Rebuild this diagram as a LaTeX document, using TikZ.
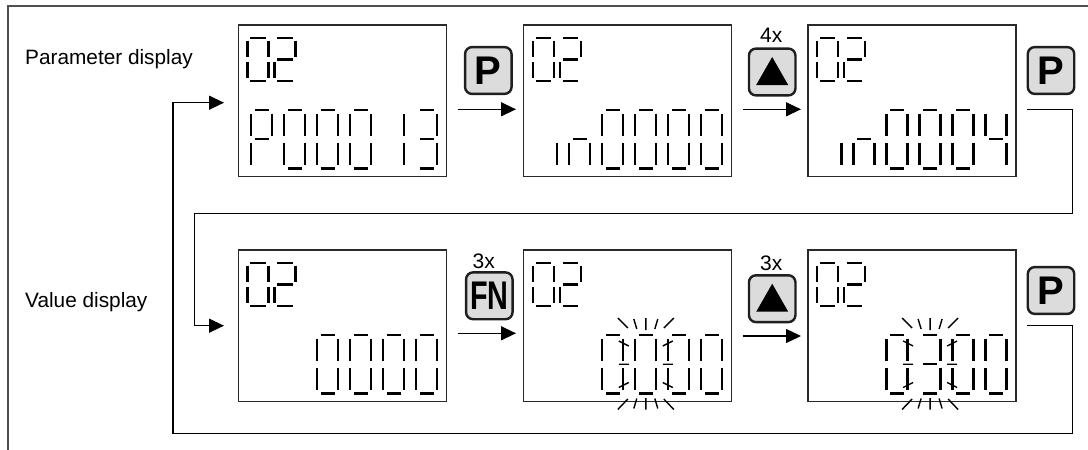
\documentclass[tikz,border=0pt]{standalone}
\usepackage{fontspec}
\setmainfont{Liberation Sans}
\usetikzlibrary{arrows.meta}
\definecolor{btngray}{HTML}{DCDCDC}
\definecolor{framegray}{HTML}{505050}
\definecolor{boxline}{HTML}{2A2A2A}

\newcommand\dsega[5]{\draw[seg] ({#1+#5},{#2}) -- ({#1+#3-#5},{#2});}
\newcommand\dsegb[5]{\draw[seg] ({#1+#3},{#2+#5}) -- ({#1+#3},{#2+#4/2-#5});}
\newcommand\dsegc[5]{\draw[seg] ({#1+#3},{#2+#4/2+#5}) -- ({#1+#3},{#2+#4-#5});}
\newcommand\dsegd[5]{\draw[seg] ({#1+#5},{#2+#4}) -- ({#1+#3-#5},{#2+#4});}
\newcommand\dsege[5]{\draw[seg] ({#1},{#2+#4/2+#5}) -- ({#1},{#2+#4-#5});}
\newcommand\dsegf[5]{\draw[seg] ({#1},{#2+#5}) -- ({#1},{#2+#4/2-#5});}
\newcommand\dsegg[5]{\draw[seg] ({#1+#5},{#2+#4/2}) -- ({#1+#3-#5},{#2+#4/2});}
\newcommand\dseg[6]{\foreach \s in {#6}{\csname dseg\s\endcsname{#1}{#2}{#3}{#4}{#5}}}
\newcommand\bigdig[3]{\dseg{#1}{#2}{21}{58.5}{3.5}{#3}}
\newcommand\smalldig[3]{\dseg{#1}{#2}{21}{43.5}{2.8}{#3}}
\newcommand\topnum[2]{\smalldig{#1+9.7}{#2+13.4}{a,b,c,d,e,f}\smalldig{#1+36.7}{#2+13.4}{a,b,g,e,d}}
\newcommand\blinkmark[2]{%
 \begin{scope}[shift={({#1+10.5},{#2})}]
  \draw[ray] (-28,-17)--(-18,-7) (-12,-16)--(-9,-6) (0,-17)--(0,-5) (9,-6)--(12,-16) (18,-7)--(28,-17);
  \draw[ray] (-28,74.5)--(-18,64) (-12,73.5)--(-9,63.5) (0,74.5)--(0,63) (9,63.5)--(12,73.5) (18,64)--(28,74.5);
  \draw[ray] (-27,6)--(-17,11) (-27,29.25)--(-17,29.25) (-27,52.5)--(-17,47.5);
  \draw[ray] (17,11)--(27,6) (17,29.25)--(27,29.25) (17,47.5)--(27,52.5);
 \end{scope}}

\begin{document}
\begin{tikzpicture}[x=1pt,y=-1pt,
  seg/.style={line width=2.3pt,black},
  ray/.style={line width=1.4pt,black},
  disp/.style={draw=boxline,line width=1.6pt,minimum width=208pt,minimum height=151.5pt,inner sep=0pt},
  btn/.style={draw=black!88,line width=2.4pt,fill=btngray,rounded corners=7pt,minimum width=46.5pt,minimum height=46.8pt,inner sep=0pt},
  btntext/.style={font=\bfseries\fontsize{40}{40}\selectfont},
  lbl/.style={font=\fontsize{20.8}{22}\selectfont,inner sep=0pt},
  cnt/.style={font=\fontsize{21}{22}\selectfont,inner sep=0pt},
  conn/.style={line width=1.4pt,black},
  arr/.style={conn,-{Triangle[length=15pt,width=14pt]}},
  frame/.style={line width=2pt,framegray}]
\useasboundingbox (0,0) rectangle (1088,450);

% outer frame (top and left edges)
\coordinate (fr1) at (8,450);
\coordinate (fr2) at (1088,6);
\draw[frame] (fr1) |- (fr2);

% labels
\node[lbl,anchor=base west] (lpar) at (25,64.5) {Parameter display};
\node[lbl,anchor=base west] (lval) at (25,307.5) {Value display};

% displays
\node[disp] (d1) at (342.5,100.8) {};
\node[disp] (d2) at (627.5,100.8) {};
\node[disp] (d3) at (912.2,100.8) {};
\node[disp] (d4) at (342.5,325.8) {};
\node[disp] (d5) at (627.5,325.8) {};
\node[disp] (d6) at (912.2,325.8) {};

% small "02"
\topnum{237.7}{24.3}
\topnum{523}{24.3}
\topnum{807.3}{24.3}
\topnum{237.7}{249.3}
\topnum{523}{249.3}
\topnum{807.3}{249.3}

% D1: P00013
\bigdig{251}{110}{a,b,e,f,g}
\bigdig{284}{110}{a,b,c,d,e,f}
\bigdig{317}{110}{a,b,c,d,e,f}
\bigdig{350}{110}{a,b,c,d,e,f}
\bigdig{383}{110}{b,c}
\bigdig{416}{110}{a,b,c,d,g}
% D2: in0000
\bigdig{536.3}{110}{c}
\bigdig{569.3}{110}{c,e,g}
\bigdig{602.3}{110}{a,b,c,d,e,f}
\bigdig{635.3}{110}{a,b,c,d,e,f}
\bigdig{668.3}{110}{a,b,c,d,e,f}
\bigdig{701.3}{110}{a,b,c,d,e,f}
% D3: in0004
\bigdig{820.6}{110}{c}
\bigdig{853.6}{110}{c,e,g}
\bigdig{886.6}{110}{a,b,c,d,e,f}
\bigdig{919.6}{110}{a,b,c,d,e,f}
\bigdig{952.6}{110}{a,b,c,d,e,f}
\bigdig{985.6}{110}{b,c,f,g}
% D4: 0000
\bigdig{317}{335}{a,b,c,d,e,f}
\bigdig{350}{335}{a,b,c,d,e,f}
\bigdig{383}{335}{a,b,c,d,e,f}
\bigdig{416}{335}{a,b,c,d,e,f}
% D5: 0000 (2nd flashing)
\bigdig{602.3}{335}{a,b,c,d,e,f}
\bigdig{635.3}{335}{a,b,c,d,e,f}
\bigdig{668.3}{335}{a,b,c,d,e,f}
\bigdig{701.3}{335}{a,b,c,d,e,f}
\blinkmark{635.3}{335}
% D6: 0300 (2nd flashing)
\bigdig{886.6}{335}{a,b,c,d,e,f}
\bigdig{919.6}{335}{a,b,c,d,g}
\bigdig{952.6}{335}{a,b,c,d,e,f}
\bigdig{985.6}{335}{a,b,c,d,e,f}
\blinkmark{919.6}{335}

% buttons
\node[btn] (p1) at (488.3,70.5) {};
\node[btntext] (p1t) at (p1.center) {P};
\node[btn] (u1) at (772.2,72) {};
\fill[shift={(u1.center)}] (-16,13) -- (16,13) -- (0,-15) -- cycle;
\node[cnt] (c1) at (771.3,35.5) {4x};
\node[btn] (p2) at (1051,70.5) {};
\node[btntext] (p2t) at (p2.center) {P};

\node[btn] (f1) at (489.3,295.8) {};
\node[btntext] (f1t) at (f1.center) {\scalebox{0.72}[1]{FN}};
\node[cnt] (c2) at (483.8,261) {3x};
\node[btn] (u2) at (772.2,298.7) {};
\fill[shift={(u2.center)}] (-16,13) -- (16,13) -- (0,-15) -- cycle;
\node[cnt] (c3) at (771.3,263.5) {3x};
\node[btn] (p3) at (1051,290.5) {};
\node[btntext] (p3t) at (p3.center) {P};

% arrows between displays
\coordinate (a1s) at (457.7,109.3); \coordinate (a1e) at (516,109.3);
\coordinate (a2s) at (742.7,109.3); \coordinate (a2e) at (801,109.3);
\coordinate (a3s) at (457.7,333.3); \coordinate (a3e) at (516,333.3);
\coordinate (a4s) at (742.7,336);   \coordinate (a4e) at (801,336);
\draw[arr] (a1s) -- (a1e);
\draw[arr] (a2s) -- (a2e);
\draw[arr] (a3s) -- (a3e);
\draw[arr] (a4s) -- (a4e);

% loop from parameter row to value row
\coordinate (l1s) at (1027.3,109.3);
\coordinate (l1a) at (1072.7,213.3);
\coordinate (l1b) at (194.3,325.7);
\coordinate (l1e) at (224,325.7);
\draw[arr] (l1s) -| (l1a) -| (l1b) -- (l1e);

% loop from value row back to parameter row
\coordinate (l2s) at (1027.3,325.7);
\coordinate (l2a) at (1072.7,433.3);
\coordinate (l2b) at (173,102.7);
\coordinate (l2e) at (224,102.7);
\draw[arr] (l2s) -| (l2a) -| (l2b) -- (l2e);
\end{tikzpicture}
\end{document}
